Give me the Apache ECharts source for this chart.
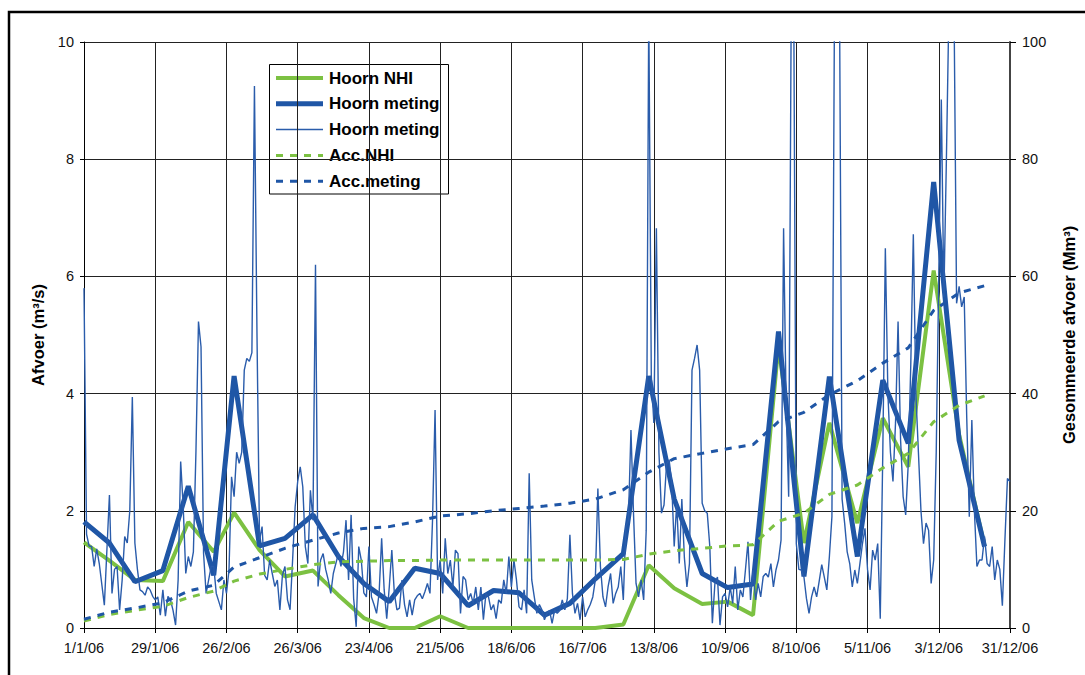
<!DOCTYPE html>
<html><head><meta charset="utf-8">
<script src="https://cdn.jsdelivr.net/npm/echarts@6/dist/echarts.min.js"></script>
<style>html,body{margin:0;padding:0;background:#fff}#c{width:1085px;height:675px}</style>
</head><body><div id="c"></div>
<script>
// ---- data ----
const xTickLabels = ['1/1/06','29/1/06','26/2/06','26/3/06','23/4/06','21/5/06','18/6/06','16/7/06','13/8/06','10/9/06','8/10/06','5/11/06','3/12/06','31/12/06'];
const leftTicks = [0, 2, 4, 6, 8, 10];
const rightTicks = [0, 20, 40, 60, 80, 100];
const seriesNames = ['Hoorn NHI', 'Hoorn meting', 'Hoorn meting', 'Acc.NHI', 'Acc.meting'];

// dekad dates (1st, 11th, 21st of each month)
const dekadDates = ['2006-01-01','2006-01-11','2006-01-21','2006-02-01','2006-02-11','2006-02-21','2006-03-01','2006-03-11','2006-03-21','2006-04-01','2006-04-11','2006-04-21','2006-05-01','2006-05-11','2006-05-21','2006-06-01','2006-06-11','2006-06-21','2006-07-01','2006-07-11','2006-07-21','2006-08-01','2006-08-11','2006-08-21','2006-09-01','2006-09-11','2006-09-21','2006-10-01','2006-10-11','2006-10-21','2006-11-01','2006-11-11','2006-11-21','2006-12-01','2006-12-11','2006-12-21'];
const hoornNHI = [1.46,1.15,0.82,0.80,1.81,1.30,1.97,1.33,0.88,0.98,0.56,0.17,0.0,0.0,0.20,0.0,0.0,0.0,0.0,0.0,0.0,0.06,1.07,0.68,0.41,0.45,0.22,4.83,1.45,3.50,1.79,3.58,2.75,6.10,3.30,1.40];
const hoornMetingDekad = [1.81,1.45,0.79,0.98,2.42,0.90,4.30,1.40,1.53,1.93,1.22,0.76,0.45,1.02,0.93,0.38,0.64,0.60,0.22,0.42,0.84,1.27,4.30,2.20,0.93,0.69,0.75,5.06,0.88,4.29,1.22,4.23,3.15,7.61,3.20,1.39];
const accNHI = [1.2,2.3,3.0,3.7,5.2,6.3,8.0,9.2,10.0,10.8,11.3,11.4,11.5,11.5,11.6,11.6,11.6,11.6,11.6,11.6,11.6,11.7,12.6,13.2,13.6,14.0,14.2,18.2,19.6,22.8,24.4,27.3,29.8,35.2,38.0,39.6];
const accMeting = [1.5,2.7,3.4,4.3,6.3,7.3,10.4,12.0,13.6,15.0,16.2,17.0,17.3,18.1,19.1,19.5,20.0,20.4,20.8,21.3,22.0,23.6,26.6,28.9,29.8,30.6,31.3,35.2,36.8,39.8,42.2,45.2,47.8,54.2,57.2,58.4];

// daily measurement: [day of year (0 = 1 Jan 2006), m3/s]
const hoornMetingDaily = [[0,5.8],[1,1.6],[2,1.4],[3,1.39],[4,1.05],[5,1.35],[6,1.1],[8,0.39],[10,2.27],[11,0.59],[12,1.0],[13,1.05],[14,0.31],[15,0.82],[16,1.56],[17,1.45],[18,2.0],[19,3.94],[20,1.45],[21,1.0],[22,0.65],[23,0.62],[24,0.56],[25,0.7],[26,0.65],[27,0.54],[28,0.48],[29,0.53],[30,0.22],[31,0.65],[32,0.2],[33,0.54],[34,0.48],[35,0.3],[36,0.05],[37,0.82],[38,2.84],[39,2.07],[40,0.93],[41,1.22],[42,1.05],[43,1.3],[44,3.0],[45,5.23],[46,4.8],[47,1.27],[48,0.59],[49,0.82],[50,1.05],[51,1.05],[52,0.59],[53,0.45],[54,0.31],[55,0.82],[56,0.59],[57,0.99],[58,2.58],[59,2.24],[60,3.0],[61,2.81],[62,3.0],[63,4.4],[64,4.6],[65,4.55],[66,4.7],[67,9.25],[68,5.0],[69,1.5],[70,1.73],[71,0.9],[72,0.82],[73,1.16],[74,0.93],[75,0.71],[76,0.82],[77,0.31],[78,0.9],[79,1.05],[80,0.48],[81,0.31],[82,1.16],[83,2.07],[84,2.5],[85,2.75],[86,2.41],[87,1.39],[88,1.1],[89,2.35],[90,1.84],[91,6.2],[92,0.71],[93,1.16],[94,1.27],[95,1.0],[96,0.82],[97,0.59],[98,0.93],[99,1.1],[100,1.27],[101,1.05],[102,1.3],[103,1.84],[104,0.82],[105,1.93],[106,0.5],[107,0.02],[108,1.39],[109,1.16],[110,0.6],[111,0.53],[112,1.39],[113,0.53],[114,0.4],[115,0.25],[116,0.59],[117,1.53],[118,0.65],[119,0.16],[120,0.7],[121,1.33],[122,0.59],[123,0.31],[124,0.34],[125,0.82],[126,0.4],[127,0.19],[128,0.48],[129,0.22],[130,0.48],[131,0.55],[132,0.59],[133,0.5],[134,0.62],[135,0.76],[136,0.59],[137,1.84],[138,3.72],[139,0.82],[140,1.16],[141,0.59],[142,1.53],[143,0.93],[144,1.16],[145,0.7],[146,1.33],[147,1.27],[148,0.25],[149,0.88],[150,0.82],[151,0.48],[152,0.59],[153,0.42],[154,0.7],[155,0.31],[156,0.7],[157,0.14],[158,0.59],[159,0.53],[160,0.31],[161,0.4],[162,0.16],[163,0.48],[164,0.42],[165,0.82],[166,0.59],[167,1.22],[168,0.7],[169,1.16],[170,0.82],[171,0.36],[172,0.31],[173,0.65],[174,0.25],[175,2.64],[176,0.82],[177,0.53],[178,0.25],[179,0.4],[180,0.31],[181,0.14],[182,0.25],[183,0.3],[184,0.08],[185,0.31],[186,0.25],[187,0.3],[188,0.48],[189,0.31],[190,0.5],[191,1.59],[192,0.59],[193,0.25],[194,0.42],[195,0.14],[196,0.53],[197,0.19],[198,0.31],[199,0.4],[200,0.53],[201,0.82],[202,2.38],[203,1.05],[204,0.53],[205,0.36],[206,0.7],[207,0.93],[208,0.42],[209,0.59],[210,0.7],[211,1.05],[212,0.48],[213,1.73],[214,1.84],[215,3.38],[216,1.96],[217,0.76],[218,0.53],[219,0.82],[220,0.48],[221,1.67],[222,10.6],[223,4.3],[224,3.5],[225,6.82],[226,3.0],[227,1.96],[228,2.1],[229,2.8],[230,2.87],[231,2.5],[232,1.39],[233,2.13],[234,1.1],[235,2.2],[236,1.2],[237,0.7],[238,1.1],[239,4.4],[240,4.6],[241,4.83],[242,4.4],[243,2.13],[244,2.0],[245,1.96],[246,1.39],[247,0.08],[248,0.76],[249,0.87],[250,0.05],[251,0.53],[252,0.59],[253,0.36],[254,0.7],[255,0.42],[256,1.05],[257,0.31],[258,0.65],[259,0.53],[260,0.99],[261,1.47],[262,0.48],[263,0.99],[264,0.48],[265,0.76],[266,0.53],[267,0.88],[268,0.93],[269,0.87],[270,1.1],[271,0.7],[272,0.99],[273,1.16],[274,1.5],[275,6.82],[276,3.8],[277,2.24],[278,10.6],[279,10.6],[280,1.44],[281,1.0],[282,0.99],[283,0.87],[284,0.5],[285,0.25],[286,0.53],[287,0.7],[288,0.53],[289,0.8],[290,1.08],[291,0.87],[292,0.65],[293,1.22],[294,1.9],[295,10.6],[296,10.6],[297,10.6],[298,2.2],[299,1.79],[300,1.3],[301,1.1],[302,0.7],[303,0.99],[304,0.76],[305,1.1],[306,1.44],[307,1.7],[308,1.0],[309,0.65],[310,1.33],[311,1.16],[312,1.44],[313,0.16],[314,3.0],[315,6.48],[316,4.0],[317,3.0],[318,2.5],[319,3.5],[320,5.23],[321,3.2],[322,2.24],[323,1.93],[324,2.8],[325,4.5],[326,6.72],[327,4.0],[328,3.0],[329,2.0],[330,1.44],[331,1.79],[332,1.67],[333,0.76],[334,1.16],[335,3.0],[336,6.0],[337,9.02],[338,5.65],[339,8.0],[340,10.6],[341,10.6],[342,10.6],[343,5.54],[344,5.83],[345,5.48],[346,5.65],[347,3.58],[348,1.9],[349,3.55],[350,2.0],[351,1.05],[352,1.16],[353,1.16],[354,1.56],[355,1.1],[356,1.05],[357,1.39],[358,0.82],[359,1.16],[360,1.0],[361,0.38],[362,1.5],[363,2.55],[364,2.5]];

// ---- build ----
const GREEN = '#7CC142', BLUE = '#1F56A6', BLUE_THIN = '#2A5CAB';
const FONT = '"Liberation Sans", Arial, sans-serif';
const day0 = Date.UTC(2006, 0, 1);
const dayOf = s => (Date.UTC(+s.slice(0,4), +s.slice(5,7) - 1, +s.slice(8,10)) - day0) / 86400000;
const dekadDays = dekadDates.map(dayOf);
const pairs = vals => vals.map((v, i) => [dekadDays[i], v]);

const chart = echarts.init(document.getElementById('c'), null, {renderer: 'svg'});

const legendRows = [
  {name: seriesNames[0], color: GREEN, width: 4, dash: null},
  {name: seriesNames[1], color: BLUE, width: 5, dash: null},
  {name: seriesNames[2], color: BLUE_THIN, width: 1.5, dash: null},
  {name: seriesNames[3], color: GREEN, width: 3, dash: [7, 7]},
  {name: seriesNames[4], color: BLUE, width: 3, dash: [7, 7]}
];
const legendEls = [{type: 'rect', shape: {x: 269.5, y: 64.5, width: 179, height: 129.5},
  style: {fill: '#fff', stroke: '#000', lineWidth: 1}}];
legendRows.forEach((r, i) => {
  const y = 78 + i * 25.8;
  legendEls.push({type: 'line', shape: {x1: 276, y1: y, x2: 323, y2: y},
    style: {stroke: r.color, lineWidth: r.width, lineDash: r.dash}});
  legendEls.push({type: 'text', x: 329, y: y,
    style: {text: r.name, fontSize: 17, fontWeight: 'bold', fontFamily: FONT, fill: '#000',
      verticalAlign: 'middle', textVerticalAlign: 'middle'}});
});

chart.setOption({
  animation: false,
  backgroundColor: '#fff',
  grid: {left: 84, right: 73, top: 42, bottom: 47, containLabel: false},
  xAxis: {
    type: 'value', min: 0, max: 364, interval: 28,
    axisLine: {show: true, lineStyle: {color: '#000', width: 1}},
    axisTick: {show: true, length: 5, lineStyle: {color: '#000'}},
    axisLabel: {color: '#111', fontSize: 14.5, fontFamily: FONT, margin: 12,
      formatter: v => xTickLabels[Math.round(v / 28)] || ''},
    splitLine: {show: true, lineStyle: {color: '#222', width: 1}}
  },
  yAxis: [{
    type: 'value', min: leftTicks[0], max: leftTicks[leftTicks.length - 1], interval: 2,
    name: 'Afvoer (m³/s)', nameLocation: 'middle', nameRotate: 90, nameGap: 38,
    nameTextStyle: {fontSize: 16.5, fontWeight: 'bold', fontFamily: FONT, color: '#000'},
    axisLine: {show: true, lineStyle: {color: '#000', width: 1}},
    axisTick: {show: true, length: 4, lineStyle: {color: '#000'}},
    axisLabel: {color: '#111', fontSize: 14.5, fontFamily: FONT, margin: 10},
    splitLine: {show: true, lineStyle: {color: '#222', width: 1}}
  }, {
    type: 'value', min: rightTicks[0], max: rightTicks[rightTicks.length - 1], interval: 20,
    position: 'right',
    name: 'Gesommeerde afvoer (Mm³)', nameLocation: 'middle', nameRotate: 90, nameGap: 50,
    nameTextStyle: {fontSize: 16.5, fontWeight: 'bold', fontFamily: FONT, color: '#000'},
    axisLine: {show: true, lineStyle: {color: '#444', width: 2}},
    axisTick: {show: true, length: 6, lineStyle: {color: '#000'}},
    axisLabel: {color: '#111', fontSize: 14.5, fontFamily: FONT, margin: 12},
    splitLine: {show: false}
  }],
  graphic: [
    {type: 'rect', shape: {x: 9, y: 12, width: 1100, height: 700},
      style: {fill: 'none', stroke: '#000', lineWidth: 2.5}, z: 100},
    {type: 'group', z: 100, children: legendEls}
  ],
  series: [
    {name: seriesNames[0], type: 'line', yAxisIndex: 0, data: pairs(hoornNHI), showSymbol: false,
      lineStyle: {color: GREEN, width: 4}, itemStyle: {color: GREEN}},
    {name: seriesNames[1], type: 'line', yAxisIndex: 0, data: pairs(hoornMetingDekad), showSymbol: false,
      lineStyle: {color: BLUE, width: 5}, itemStyle: {color: BLUE}},
    {name: seriesNames[2] + ' (dag)', type: 'line', yAxisIndex: 0, data: hoornMetingDaily, showSymbol: false,
      lineStyle: {color: BLUE_THIN, width: 1.4}, itemStyle: {color: BLUE_THIN}},
    {name: seriesNames[3], type: 'line', yAxisIndex: 1, data: pairs(accNHI), showSymbol: false,
      lineStyle: {color: GREEN, width: 3, type: [7, 7]}, itemStyle: {color: GREEN}},
    {name: seriesNames[4], type: 'line', yAxisIndex: 1, data: pairs(accMeting), showSymbol: false,
      lineStyle: {color: BLUE, width: 3, type: [7, 7]}, itemStyle: {color: BLUE}}
  ]
});
</script></body></html>
